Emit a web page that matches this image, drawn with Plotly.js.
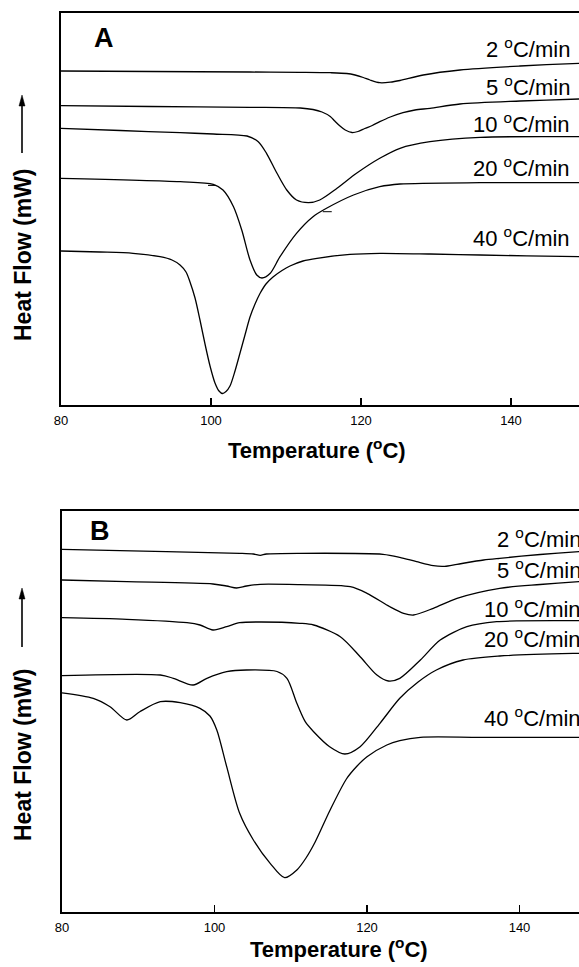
<!DOCTYPE html>
<html>
<head>
<meta charset="utf-8">
<script src="https://cdn.plot.ly/plotly-3.0.1.min.js"></script>
<style>
html,body{margin:0;padding:0;overflow:hidden;background:#fff;}
#chart{width:620px;height:967px;}
</style>
</head>
<body>
<div id="chart"></div>
<script>
// ---------- Panel A data (temperature in °C, heat flow in arbitrary units) ----------
const a2T  = [80, 91.9, 105.2, 111.9, 115.9, 118.1, 119.2, 120.3, 121.2, 122.5, 123.9, 125.2, 128.3, 133.2, 141.2, 149.1, 150];
const a2Y  = [334, 333.5, 333, 332.7, 332.3, 331.5, 330, 327.5, 325, 322.3, 322.8, 324.5, 330, 335, 339, 341.7, 342];

const a5T  = [80, 91.9, 105.2, 111.9, 113.6, 114.8, 115.9, 116.5, 117.2, 117.9, 118.8, 119.6, 120.5, 121.5, 122.5, 123.9, 125.6, 127.2, 129.2, 133.2, 141.2, 149.1, 150];
const a5Y  = [299.3, 298.5, 297.7, 297, 295.5, 293, 288.5, 284, 279, 275, 272.5, 273.5, 276.5, 279.5, 283.3, 288, 292.3, 295, 296.7, 301, 304, 306, 306.2];

const a10T = [80, 87.9, 95.9, 100.3, 104.8, 106.3, 107.4, 108.8, 110.1, 111.4, 113.0, 114.5, 116.8, 119.4, 122.5, 125.2, 129.2, 135.9, 149.1, 150];
const a10Y = [276.7, 274.5, 272.3, 271, 269, 263.3, 251.7, 231.7, 215, 205, 202.3, 205, 216.7, 231.7, 246.7, 256.7, 263.3, 267.7, 268.3, 268.3];

const a20T = [80, 95.9, 100.3, 101.6, 103.0, 104.1, 105.2, 106.1, 106.8, 107.9, 109.2, 111.4, 113.6, 115.4, 119.0, 122.5, 125.2, 135.9, 149.1, 150];
const a20Y = [226.7, 223.3, 220.7, 215, 198.3, 175, 145, 130, 127, 131.7, 148.3, 171.7, 188.3, 196.7, 210, 218.3, 221, 222.3, 222.3, 222.3];

// small tangent marks drawn on the 20 °C/min curve
const a20MarkT = [99.6, 100.7, null, 114.9, 116.1];
const a20MarkY = [219.6, 219.6, null, 193.3, 193.3];

const a40T = [80, 85.2, 89.6, 93.2, 94.8, 95.87, 96.67, 97.2, 97.87, 98.53, 99.2, 99.87, 100.53, 101.07, 101.53, 102.0, 102.53, 103.2, 103.87, 104.53, 105.2, 105.87, 106.53, 107.33, 108.27, 109.47, 110.53, 112.27, 114.13, 118.53, 122.53, 129.2, 135.87, 149.07, 150];
const a40Y = [154, 153, 151.7, 148.3, 145, 140, 133, 123, 107, 85, 61, 39, 22, 14, 11.5, 13.5, 19, 34, 52, 70, 88, 101, 111.5, 121, 128, 134.5, 139, 144, 146.7, 150.7, 151.7, 151, 150, 148.3, 148.2];

// ---------- Panel B data ----------
const b2T  = [80, 93.7, 103.3, 105.1, 106.0, 106.8, 111.2, 122.1, 124.3, 126.5, 128.7, 130.2, 131.8, 135.3, 137.4, 142.7, 147.8, 150];
const b2Y  = [362.7, 360.3, 358.7, 358, 356.7, 358, 358.7, 357.7, 354.7, 350.3, 346.3, 345.7, 347.7, 352, 353.7, 357.5, 360.3, 361.5];

const b5T  = [80, 88.5, 99.8, 101.6, 102.9, 104.2, 106.0, 111.2, 117.8, 120.0, 123.0, 124.8, 126.1, 128.7, 131.8, 137.4, 142.7, 147.8, 150];
const b5Y  = [332, 330.3, 328, 326, 324, 326, 327.7, 327.3, 325.3, 318.7, 305.3, 298.7, 297, 303.7, 313.7, 323.7, 327.5, 330.3, 331.2];

const b10T = [80, 88.5, 96.4, 98.1, 99.8, 101.6, 103.3, 106.0, 111.2, 113.0, 116.5, 119.1, 121.3, 122.8, 124.3, 127.0, 129.6, 133.1, 137.0, 147.8, 150];
const b10Y = [294.3, 292.7, 289.3, 287, 282, 285.3, 289.3, 290, 288.7, 287, 275.3, 255.3, 237, 231, 233.7, 252, 272, 285.3, 290.3, 291.3, 291.4];

const b20T = [80, 92.9, 94.6, 97.2, 99.0, 101.6, 104.2, 108.2, 109.5, 110.8, 111.9, 113.0, 115.1, 117.1, 119.1, 121.7, 124.3, 126.7, 129.1, 132.6, 137.4, 147.8, 150];
const b20Y = [236.3, 237, 233.7, 227, 233.7, 240.3, 242, 240.5, 233.7, 208.7, 190.3, 180.3, 165.3, 158, 165.3, 188.7, 213.7, 230, 242, 252, 256, 258.7, 259];

const b40T = [80, 84.1, 86.3, 88.5, 90.2, 92.9, 95.5, 98.1, 99.4, 100.3, 101.6, 103.3, 105.1, 107.3, 109.2, 110.8, 112.0, 113.2, 115.1, 117.3, 118.7, 120.0, 122.6, 124.3, 127.0, 134.8, 147.8, 150];
const b40Y = [219.2, 213.7, 205.3, 192, 200.3, 210.3, 209.3, 203.7, 196, 182, 145.3, 98.7, 72, 48.7, 34.3, 42, 54, 70, 101, 133, 146, 155.3, 167, 171.3, 174.7, 174.7, 174.7, 174.7];

const rateLabels = ["2", "5", "10", "20", "40"];
const labelYA = [357, 319, 282.3, 238.3, 168.3];
const labelYB = [373.7, 342.7, 303.7, 273.7, 195.3];

const FONT = "Liberation Sans, Arial, Helvetica, sans-serif";
const lineStyle = {color: "#000", width: 1.3, shape: "spline", smoothing: 0.8};

function tr(x, y, xa, ya, style) {
  return {x: x, y: y, xaxis: xa, yaxis: ya, type: "scatter", mode: "lines",
          line: style || lineStyle, hoverinfo: "skip", showlegend: false, cliponaxis: true};
}

const data = [
  tr(a2T, a2Y, "x", "y"), tr(a5T, a5Y, "x", "y"), tr(a10T, a10Y, "x", "y"),
  tr(a20T, a20Y, "x", "y"), tr(a40T, a40Y, "x", "y"),
  tr(a20MarkT, a20MarkY, "x", "y", {color: "#000", width: 1}),
  tr(b2T, b2Y, "x2", "y2"), tr(b5T, b5Y, "x2", "y2"), tr(b10T, b10Y, "x2", "y2"),
  tr(b20T, b20Y, "x2", "y2"), tr(b40T, b40Y, "x2", "y2")
];

const W = 620, H = 967;
function px(x) { return x / W; }
function py(y) { return (H - y) / H; }

const xCommon = {
  range: [80, 150], tickvals: [80, 100, 120, 140], ticktext: ["80", "100", "120", "140"],
  ticks: "inside", ticklen: 7, tickwidth: 1.2, tickcolor: "#000",
  showline: true, linecolor: "#000", linewidth: 1.6, mirror: true,
  showgrid: false, zeroline: false, ticklabelstandoff: 3,
  tickfont: {family: FONT, size: 13, color: "#000"}
};
const yCommon = {
  showticklabels: false, ticks: "", showgrid: false, zeroline: false,
  showline: true, linecolor: "#000", linewidth: 1.6, mirror: true
};

const annotations = [];
function txt(x, y, text, size, bold, opts) {
  annotations.push(Object.assign({
    xref: "paper", yref: "paper", x: px(x), y: py(y), text: text, showarrow: false,
    xanchor: "center", yanchor: "middle",
    font: {family: FONT, size: size, color: "#000", weight: bold ? "bold" : "normal"}
  }, opts || {}));
}
// panel letters
txt(104, 38, "<b>A</b>", 27, true);
txt(100, 531, "<b>B</b>", 27, true);
// x titles
txt(317, 449, "<b>Temperature (<sup>o</sup>C)</b>", 22, true);
txt(339, 948, "<b>Temperature (<sup>o</sup>C)</b>", 22, true);
// y titles
txt(23, 255, "<b>Heat Flow (mW)</b>", 23, true, {textangle: -90});
txt(23, 755, "<b>Heat Flow (mW)</b>", 23, true, {textangle: -90});

// arrows next to y titles (line + head)
const shapes = [];
[[95, 153], [588, 647]].forEach(function (p) {
  shapes.push({type: "line", xref: "paper", yref: "paper", x0: px(22), x1: px(22),
    y0: py(p[1]), y1: py(p[0] + 8), line: {color: "#000", width: 1.6}});
  shapes.push({type: "path", xref: "paper", yref: "paper",
    path: "M " + px(22) + " " + py(p[0]) + " L " + px(19) + " " + py(p[0] + 11) +
          " L " + px(25) + " " + py(p[0] + 11) + " Z",
    fillcolor: "#000", line: {color: "#000", width: 0.5}});
});

// rate labels
rateLabels.forEach(function (r, i) {
  annotations.push({xref: "x", yref: "y", x: 148.1, y: labelYA[i], xanchor: "right", yanchor: "middle",
    text: r + " <sup>o</sup>C/min", showarrow: false, font: {family: FONT, size: 22, color: "#000"}});
  annotations.push({xref: "x2", yref: "y2", x: 148.3, y: labelYB[i], xanchor: "right", yanchor: "middle",
    text: r + " <sup>o</sup>C/min", showarrow: false, font: {family: FONT, size: 22, color: "#000"}});
});

const layout = {
  width: W, height: H, margin: {l: 0, r: 0, t: 0, b: 0},
  paper_bgcolor: "#fff", plot_bgcolor: "#fff", showlegend: false,
  xaxis: Object.assign({}, xCommon, {domain: [px(61), px(586)], anchor: "y"}),
  yaxis: Object.assign({}, yCommon, {domain: [py(405), py(13)], range: [0, 392], anchor: "x"}),
  xaxis2: Object.assign({}, xCommon, {domain: [px(62), px(595.75)], anchor: "y2"}),
  yaxis2: Object.assign({}, yCommon, {domain: [py(912), py(511)], range: [0, 401], anchor: "x2"}),
  annotations: annotations,
  shapes: shapes
};

Plotly.newPlot("chart", data, layout, {staticPlot: true, displayModeBar: false});
</script>
</body>
</html>
